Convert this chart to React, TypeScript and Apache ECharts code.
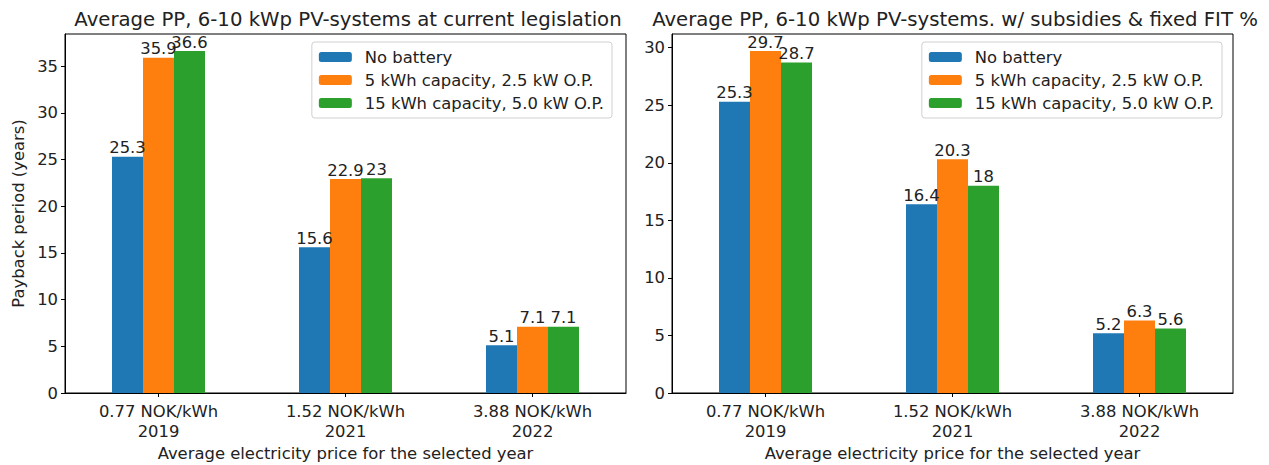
import React, { useEffect, useRef } from "react";
import * as echarts from "echarts";

const categories = ["0.77 NOK/kWh\n2019", "1.52 NOK/kWh\n2021", "3.88 NOK/kWh\n2022"];
const seriesNames = ["No battery", "5 kWh capacity, 2.5 kW O.P.", "15 kWh capacity, 5.0 kW O.P."];
const colors = ["#1f77b4", "#ff7f0e", "#2ca02c"];

const leftNoBattery = [25.3, 15.6, 5.1];
const left5kWh = [35.9, 22.9, 7.1];
const left15kWh = [36.6, 23, 7.1];

const rightNoBattery = [25.3, 16.4, 5.2];
const right5kWh = [29.7, 20.3, 6.3];
const right15kWh = [28.7, 18, 5.6];

const leftTitle = "Average PP, 6-10 kWp PV-systems at current legislation";
const rightTitle = "Average PP, 6-10 kWp PV-systems. w/ subsidies & fixed FIT %";
const xName = "Average electricity price for the selected year";
const yName = "Payback period (years)";

const FONT = "DejaVu Sans";
const FS = 16.4;

export default function App() {
  const ref = useRef<HTMLDivElement>(null);
  useEffect(() => {
    if (!ref.current) return;
    const chart = echarts.init(ref.current, undefined, { renderer: "svg" });
    const leftData = [leftNoBattery, left5kWh, left15kWh];
    const rightData = [rightNoBattery, right5kWh, right15kWh];
    const leftMax = Math.max(...leftData.flat()) * 1.05;
    const rightMax = Math.max(...rightData.flat()) * 1.05;

    const grids = [
      { left: 65, top: 34, width: 561, height: 359 },
      { left: 672, top: 34, width: 561, height: 359 },
    ];

    const xAxisBase = (gridIndex: number) => ({
      type: "category",
      gridIndex,
      data: categories,
      boundaryGap: true,
      axisLine: { show: true, lineStyle: { color: "#000", width: 1 } },
      axisTick: { show: true, alignWithLabel: true, length: 4, lineStyle: { color: "#000" } },
      axisLabel: { color: "#222", fontFamily: FONT, fontSize: FS, lineHeight: 20, margin: 8 },
      name: xName,
      nameLocation: "middle",
      nameGap: 52,
      nameTextStyle: { color: "#222", fontFamily: FONT, fontSize: FS },
    });

    const yAxisBase = (gridIndex: number, max: number, withName: boolean) => ({
      type: "value",
      gridIndex,
      min: 0,
      max,
      interval: 5,
      splitLine: { show: false },
      axisLine: { show: true, lineStyle: { color: "#000", width: 1 } },
      axisTick: { show: true, length: 4, lineStyle: { color: "#000" } },
      axisLabel: {
        color: "#222",
        fontFamily: FONT,
        fontSize: FS,
        margin: 7,
        showMaxLabel: false,
        formatter: (v: number) => (v % 5 === 0 ? String(v) : ""),
      },
      name: withName ? yName : "",
      nameLocation: "middle",
      nameRotate: 90,
      nameGap: 39,
      nameTextStyle: { color: "#222", fontFamily: FONT, fontSize: FS },
    });

    const makeSeries = (data: number[][], idx: number) =>
      data.map((d, i) => ({
        type: "bar",
        name: seriesNames[i],
        xAxisIndex: idx,
        yAxisIndex: idx,
        data: d,
        barWidth: 31,
        barGap: "0%",
        itemStyle: { color: colors[i] },
        label: {
          show: true,
          position: "top",
          distance: 1,
          color: "#222",
          fontFamily: FONT,
          fontSize: FS,
        },
      }));

    const legendBase = (right: number) => ({
      orient: "vertical",
      right,
      top: 42,
      data: seriesNames,
      itemWidth: 33,
      itemHeight: 10,
      itemGap: 7,
      padding: [7, 8, 7, 7],
      borderColor: "#d0d0d0",
      borderWidth: 1,
      borderRadius: 3,
      backgroundColor: "rgba(255,255,255,0.8)",
      textStyle: { color: "#222", fontFamily: FONT, fontSize: FS, padding: [0, 0, 0, 8] },
      selectedMode: false,
    });

    chart.setOption({
      animation: false,
      backgroundColor: "#fff",
      title: [
        {
          text: leftTitle,
          left: 343,
          textAlign: "center",
          top: 4,
          textStyle: { color: "#222", fontFamily: FONT, fontSize: 19.7, fontWeight: "normal" },
        },
        {
          text: rightTitle,
          left: 950,
          textAlign: "center",
          top: 4,
          textStyle: { color: "#222", fontFamily: FONT, fontSize: 19.7, fontWeight: "normal" },
        },
      ],
      grid: grids.map((g) => ({
        ...g,
        show: true,
        borderColor: "#000",
        borderWidth: 1,
        containLabel: false,
        outerBoundsMode: "none",
      })),
      legend: [legendBase(1269 - 612), legendBase(1269 - 1222)],
      xAxis: [xAxisBase(0), xAxisBase(1)],
      yAxis: [yAxisBase(0, leftMax, true), yAxisBase(1, rightMax, false)],
      series: [...makeSeries(leftData, 0), ...makeSeries(rightData, 1)],
    });
    return () => chart.dispose();
  }, []);
  return (
    <div
      ref={ref}
      style={{ position: "fixed", left: 0, top: 0, width: 1269, height: 465, background: "#fff" }}
    />
  );
}
